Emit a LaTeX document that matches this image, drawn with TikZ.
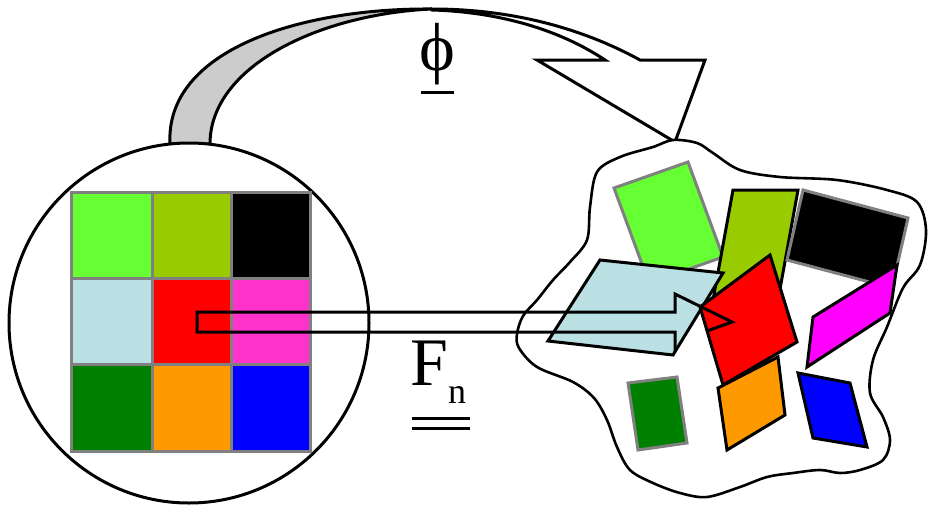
\documentclass[tikz,border=0pt]{standalone}
\usepackage{fontspec}
\setmainfont{Liberation Serif}
\definecolor{cLgreen}{HTML}{66FF33}
\definecolor{cOlive}{HTML}{99CC00}
\definecolor{cLblue}{HTML}{BBE0E3}
\definecolor{cRed}{HTML}{FF0000}
\definecolor{cPink}{HTML}{FF33CC}
\definecolor{cDgreen}{HTML}{008000}
\definecolor{cOrange}{HTML}{FF9900}
\definecolor{cBlue}{HTML}{0000FF}
\definecolor{cMagenta}{HTML}{FF00FF}
\definecolor{cBand}{HTML}{CCCCCC}
\definecolor{cBorder}{HTML}{808080}
\tikzset{
  outl/.style={draw=black, line width=3pt, line join=miter},
  grayb/.style={draw=cBorder, line width=3pt, line join=miter},
  cell/.style={draw=cBorder, line width=3pt},
}
\begin{document}
\begin{tikzpicture}[x=1pt,y=-1pt]
\useasboundingbox (0,0) rectangle (928,506);
% top curved band (phi)
\filldraw[fill=cBand, outl] (170,144) .. controls (165,50) and (300,8) .. (432,9)
   .. controls (320,14) and (210,66) .. (210,144) -- cycle;
\filldraw[fill=white, outl] (432,9) .. controls (530,9) and (600,38) .. (640,60)
   -- (705,60) -- (675,142) -- (537,60) -- (605,60)
   .. controls (560,30) and (500,12) .. (432,10) -- cycle;
% left circle
\node[circle, draw, line width=3pt, fill=white, minimum size=360pt, inner sep=0pt] (src) at (189,323) {};
% grid
\fill[cLgreen] (71,192) rectangle (152,278);
\fill[cOlive] (152,192) rectangle (231,278);
\fill[black] (231,192) rectangle (310,278);
\fill[cLblue] (71,278) rectangle (152,364);
\fill[cRed] (152,278) rectangle (231,364);
\fill[cPink] (231,278) rectangle (310,364);
\fill[cDgreen] (71,364) rectangle (152,451);
\fill[cOrange] (152,364) rectangle (231,451);
\fill[cBlue] (231,364) rectangle (310,451);
\draw[cell] (71,192) rectangle (310,451);
\draw[cell] (152,192) -- (152,451) (231,192) -- (231,451);
\draw[cell] (71,278) -- (310,278) (71,364) -- (310,364);
% blob
\filldraw[fill=white, outl, line width=2.6pt] plot[smooth cycle, tension=0.55] coordinates {
(673,140) (697,143) (713,153) (740,170) (780,177) (837,180) (887,190) (917,202)
(926,230) (920,265) (903,288) (887,327) (873,360) (870,393) (883,417) (890,440)
(883,460) (860,470) (840,473) (820,470) (793,473) (767,477) (740,487) (707,497)
(680,493) (653,483) (630,470) (617,447) (607,420) (594,398) (573,382) (537,367)
(519,348) (517,334) (523,316) (537,300) (553,280) (570,262) (587,240) (590,207)
(597,172) (620,157) (653,147)};
% shapes in the blob
\filldraw[fill=cLgreen, grayb] (614,188) -- (688,162) -- (723,257) -- (649,283) -- cycle;
\filldraw[fill=cOlive, outl] (733,190) -- (798,190) -- (778,300) -- (713,300) -- cycle;
\filldraw[fill=black, grayb] (803,190) -- (908,218) -- (892,288) -- (787,260) -- cycle;
\filldraw[fill=cMagenta, outl] (813,317) -- (897,265) -- (890,313) -- (807,367) -- cycle;
\filldraw[fill=cLblue, outl] (600,260) -- (723,273) -- (673,355) -- (548,341) -- cycle;
\filldraw[fill=cOrange, outl] (718,388) -- (778,357) -- (785,415) -- (727,450) -- cycle;
\filldraw[fill=cRed, outl] (700,307) -- (770,255) -- (797,342) -- (723,385) -- cycle;
\filldraw[fill=cBlue, outl] (798,373) -- (850,383) -- (867,447) -- (813,438) -- cycle;
\filldraw[fill=cDgreen, grayb] (628,383) -- (677,377) -- (687,443) -- (638,450) -- cycle;
% Fn arrow
\coordinate (a0) at (197,312);
\coordinate (a1) at (197,332);
\coordinate (tip) at (732,322);
\draw[outl] (707,331) -- (tip) -- (675,294) -- (675,312) -- (a0) -- (a1) -- (675,332) -- (675,352);
% labels
\node[anchor=base, inner sep=0pt, font=\fontsize{68}{68}\selectfont] (phi) at (437,70) {ϕ};
\draw[line width=3pt] (421,92) -- (454,92);
\node[anchor=base west, inner sep=0pt, font=\fontsize{68}{68}\selectfont] (fn) at (410,385) {F\raisebox{-18pt}{\fontsize{36}{36}\selectfont n}};
\draw[line width=3pt] (412,418) -- (470,418) (412,428) -- (470,428);
\end{tikzpicture}
\end{document}
